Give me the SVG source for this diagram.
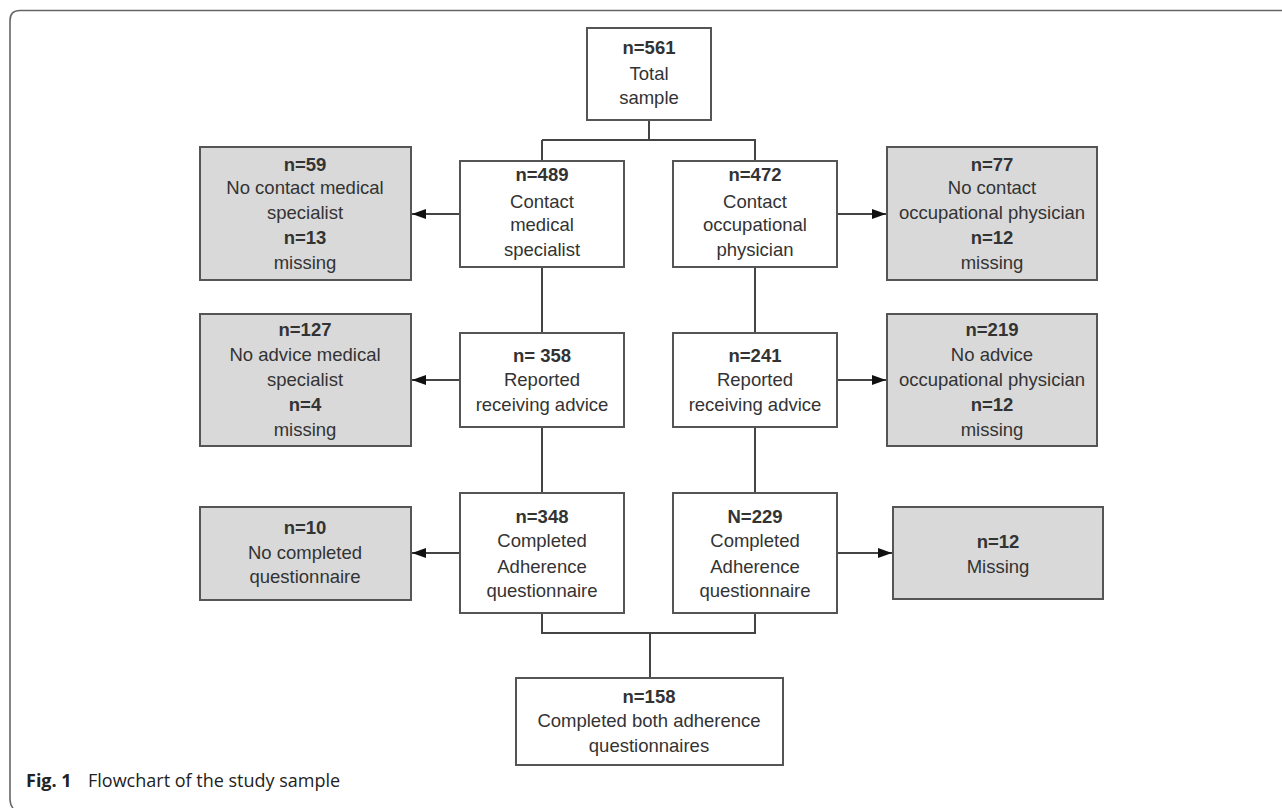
<svg xmlns="http://www.w3.org/2000/svg" width="1282" height="808" viewBox="0 0 1282 808">
<style>
.box{fill:#fff;stroke:#555;stroke-width:2}
.grey{fill:#d9d9d9;stroke:#555;stroke-width:2}
text{font-family:"Liberation Sans",Arial,sans-serif;font-size:18.5px;fill:#333;text-anchor:middle}
.b{font-weight:bold}
.ln{fill:none;stroke:#444;stroke-width:2}
.cap{font-family:"Open Sans","Liberation Sans",sans-serif;font-size:18px;fill:#222;text-anchor:start}
</style>
<defs>
<marker id="ah" markerWidth="14" markerHeight="10" refX="14" refY="5" orient="auto" markerUnits="userSpaceOnUse">
<path d="M0,0 L14,5 L0,10 Z" fill="#111"/>
</marker>
</defs>
<rect width="1282" height="808" fill="#fff"/>
<path d="M1282 10.5 H20 Q10 10.5 10 20.5 V798 Q10 805 13 808" fill="none" stroke="#666" stroke-width="1.6"/>

<g id="connectors">
<path class="ln" d="M649 120 V140 M542 140 H756 M542 140 V161 M755 140 V161"/>
<path class="ln" d="M542 267 V333 M755 267 V333 M542 427 V493 M755 427 V493"/>
<path class="ln" d="M542 613 V633 H755 V613 M650 633 V678"/>
<line class="ln" x1="460" y1="214" x2="412" y2="214" marker-end="url(#ah)"/>
<line class="ln" x1="837" y1="214" x2="886" y2="214" marker-end="url(#ah)"/>
<line class="ln" x1="460" y1="380" x2="412" y2="380" marker-end="url(#ah)"/>
<line class="ln" x1="837" y1="380" x2="886" y2="380" marker-end="url(#ah)"/>
<line class="ln" x1="460" y1="553" x2="412" y2="553" marker-end="url(#ah)"/>
<line class="ln" x1="837" y1="553" x2="892" y2="553" marker-end="url(#ah)"/>
</g>

<g id="total">
<rect class="box" x="587" y="28" width="124" height="92"/>
<text x="649" y="54" class="b">n=561</text>
<text x="649" y="80">Total</text>
<text x="649" y="104">sample</text>
</g>

<g id="contact-ms">
<rect class="box" x="460" y="161" width="164" height="106"/>
<text x="542" y="181" class="b">n=489</text>
<text x="542" y="208">Contact</text>
<text x="542" y="231">medical</text>
<text x="542" y="256">specialist</text>
</g>

<g id="contact-op">
<rect class="box" x="673" y="161" width="164" height="106"/>
<text x="755" y="181" class="b">n=472</text>
<text x="755" y="208">Contact</text>
<text x="755" y="231">occupational</text>
<text x="755" y="256">physician</text>
</g>

<g id="no-contact-ms">
<rect class="grey" x="200" y="147" width="211" height="133"/>
<text x="305" y="171" class="b">n=59</text>
<text x="305" y="194">No contact medical</text>
<text x="305" y="219">specialist</text>
<text x="305" y="244" class="b">n=13</text>
<text x="305" y="269">missing</text>
</g>

<g id="no-contact-op">
<rect class="grey" x="887" y="147" width="210" height="133"/>
<text x="992" y="171" class="b">n=77</text>
<text x="992" y="194">No contact</text>
<text x="992" y="219">occupational physician</text>
<text x="992" y="244" class="b">n=12</text>
<text x="992" y="269">missing</text>
</g>

<g id="advice-ms">
<rect class="box" x="460" y="333" width="164" height="94"/>
<text x="542" y="362" class="b">n= 358</text>
<text x="542" y="386">Reported</text>
<text x="542" y="411">receiving advice</text>
</g>

<g id="advice-op">
<rect class="box" x="673" y="333" width="164" height="94"/>
<text x="755" y="362" class="b">n=241</text>
<text x="755" y="386">Reported</text>
<text x="755" y="411">receiving advice</text>
</g>

<g id="no-advice-ms">
<rect class="grey" x="200" y="314" width="211" height="132"/>
<text x="305" y="336" class="b">n=127</text>
<text x="305" y="361">No advice medical</text>
<text x="305" y="386">specialist</text>
<text x="305" y="411" class="b">n=4</text>
<text x="305" y="436">missing</text>
</g>

<g id="no-advice-op">
<rect class="grey" x="887" y="314" width="210" height="132"/>
<text x="992" y="336" class="b">n=219</text>
<text x="992" y="361">No advice</text>
<text x="992" y="386">occupational physician</text>
<text x="992" y="411" class="b">n=12</text>
<text x="992" y="436">missing</text>
</g>

<g id="completed-ms">
<rect class="box" x="460" y="493" width="164" height="120"/>
<text x="542" y="523" class="b">n=348</text>
<text x="542" y="547">Completed</text>
<text x="542" y="573">Adherence</text>
<text x="542" y="597">questionnaire</text>
</g>

<g id="completed-op">
<rect class="box" x="673" y="493" width="164" height="120"/>
<text x="755" y="523" class="b">N=229</text>
<text x="755" y="547">Completed</text>
<text x="755" y="573">Adherence</text>
<text x="755" y="597">questionnaire</text>
</g>

<g id="no-completed">
<rect class="grey" x="200" y="507" width="211" height="93"/>
<text x="305" y="534" class="b">n=10</text>
<text x="305" y="559">No completed</text>
<text x="305" y="583">questionnaire</text>
</g>

<g id="missing-op">
<rect class="grey" x="893" y="507" width="210" height="92"/>
<text x="998" y="548" class="b">n=12</text>
<text x="998" y="573">Missing</text>
</g>

<g id="both">
<rect class="box" x="516" y="678" width="267" height="87"/>
<text x="649" y="703" class="b">n=158</text>
<text x="649" y="727">Completed both adherence</text>
<text x="649" y="752">questionnaires</text>
</g>

<text class="cap" x="26" y="787"><tspan font-weight="bold">Fig. 1</tspan><tspan x="88">Flowchart of the study sample</tspan></text>
</svg>
